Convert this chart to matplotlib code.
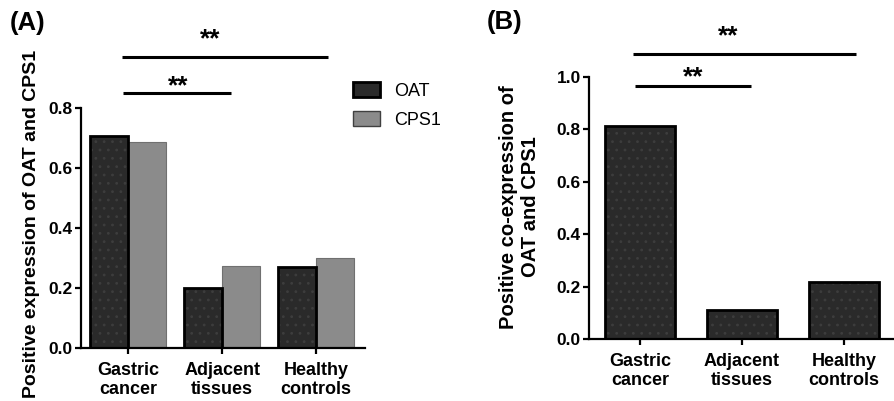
import numpy as np
import matplotlib
matplotlib.use("Agg")
import matplotlib.pyplot as plt

plt.rcParams['font.family'] = ['Liberation Sans', 'DejaVu Sans']
plt.rcParams['hatch.linewidth'] = 0.8

categories = ["Gastric\ncancer", "Adjacent\ntissues", "Healthy\ncontrols"]
oat = [0.707, 0.200, 0.270]
cps1 = [0.687, 0.273, 0.300]
coexp = [0.813, 0.110, 0.218]

W, H = 895, 401
fig = plt.figure(figsize=(W / 100, H / 100), dpi=100)


def px_axes(left, bottom, width, height):
    return fig.add_axes([left / W, (H - bottom) / H, width / W, height / H])


def style_axes(ax, ytop):
    for s in ['top', 'right']:
        ax.spines[s].set_visible(False)
    for s in ['left', 'bottom']:
        ax.spines[s].set_linewidth(1.6)
    ax.spines['left'].set_bounds(0, ytop)
    ax.tick_params(axis='both', width=1.6, length=4)
    ax.tick_params(axis='y', labelsize=12.5, pad=2)
    ax.tick_params(axis='x', labelsize=13, pad=6)
    for lab in ax.get_yticklabels() + ax.get_xticklabels():
        lab.set_fontweight('bold')


def dark_bars(ax, xpos, vals, width, **kw):
    # faint dotted texture under a black outline
    ax.bar(xpos, vals, width, color='#2a2a2a', linewidth=0, zorder=2, **kw)
    ax.bar(xpos, vals, width, color='none', edgecolor='#3d3d3d', linewidth=0, hatch='..', zorder=2.1)
    ax.bar(xpos, vals, width, color='none', edgecolor='black', linewidth=2, zorder=2.2)


def sig(ax, x0, x1, y, xstar, ystar):
    ax.plot([x0, x1], [y, y], color='black', lw=2.2, clip_on=False, solid_capstyle='butt')
    ax.text(xstar, ystar, "**", ha='center', va='baseline', fontsize=19, fontweight='bold')


# (A) grouped bars
axA = px_axes(81, 348, 284, 330)
x = np.arange(len(categories))
bw = 0.4
dark_bars(axA, x - bw / 2, oat, bw)
axA.bar(x + bw / 2, cps1, bw, color='#8b8b8b', edgecolor='#707070', linewidth=0.8, zorder=2)
axA.set_xlim(-0.5, 2.52)
axA.set_ylim(0, 1.1)
axA.set_yticks([0.0, 0.2, 0.4, 0.6, 0.8])
axA.set_yticklabels(["0.0", "0.2", "0.4", "0.6", "0.8"])
axA.set_xticks(x)
axA.set_xticklabels(categories)
style_axes(axA, 0.8)
axA.set_ylabel("Positive expression of OAT and CPS1", fontsize=14, fontweight='bold')
axA.yaxis.set_label_coords(-0.144, 0.376)
sig(axA, -0.06, 2.13, 0.97, 0.87, 1.004)
sig(axA, -0.05, 1.09, 0.85, 0.53, 0.85)

handles = [plt.Rectangle((0, 0), 1, 1, facecolor='#2a2a2a', edgecolor='black', linewidth=2),
           plt.Rectangle((0, 0), 1, 1, facecolor='#8b8b8b', edgecolor='#404040', linewidth=1)]
axA.legend(handles, ['OAT', 'CPS1'], loc='upper left', bbox_to_anchor=(353 / W, 1 - 82 / H),
           bbox_transform=fig.transFigure, frameon=False, fontsize=13, handlelength=1.5,
           handleheight=0.9, handletextpad=0.8, labelspacing=0.65, borderpad=0, borderaxespad=0)

# (B) co-expression
axB = px_axes(589, 339, 306, 314.4)
dark_bars(axB, x, coexp, 0.68)
axB.set_xlim(-0.5, 2.5)
axB.set_ylim(0, 1.2)
axB.set_yticks([0.0, 0.2, 0.4, 0.6, 0.8, 1.0])
axB.set_yticklabels(["0.0", "0.2", "0.4", "0.6", "0.8", "1.0"])
axB.set_xticks(x)
axB.set_xticklabels(categories)
style_axes(axB, 1.0)
axB.set_ylabel("Positive co-expression of\nOAT and CPS1", fontsize=14.5, fontweight='bold')
axB.yaxis.set_label_coords(-0.16, 0.42)
sig(axB, -0.07, 2.12, 1.088, 0.86, 1.13)
sig(axB, -0.05, 1.09, 0.966, 0.52, 0.973)

fig.text(10 / W, 1 - 11 / H, "(A)", fontsize=18.5, fontweight='bold', va='top', ha='left')
fig.text(487 / W, 1 - 10 / H, "(B)", fontsize=18.5, fontweight='bold', va='top', ha='left')

fig.savefig("out.png", dpi=100)
